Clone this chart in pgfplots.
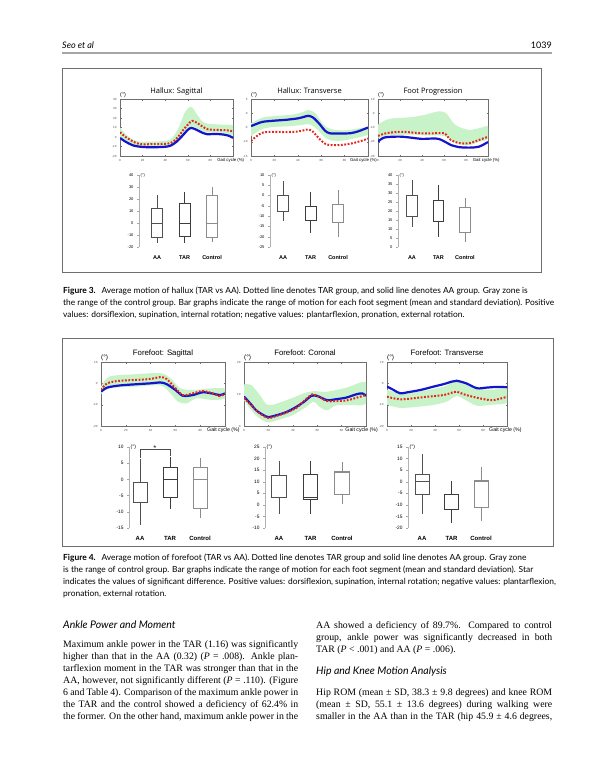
\documentclass[border=0pt]{standalone}
\usepackage{pgfplots}
\pgfplotsset{compat=1.18}
\usepgfplotslibrary{statistics}
\usepackage{fontspec}
\setmainfont{Liberation Serif}
\setsansfont{Liberation Sans}
\newfontfamily\gill{Lato}
\newfontfamily\osans{Open Sans}
\newfontfamily\dejavu{DejaVu Sans}
\definecolor{band}{HTML}{C8F2C8}
\definecolor{aablue}{HTML}{1414CC}
\definecolor{tarred}{HTML}{E3261E}
\definecolor{frame}{HTML}{6E6E6E}
\definecolor{boxA}{HTML}{505050}
\definecolor{boxT}{HTML}{3C3C3C}
\definecolor{boxC}{HTML}{8C8C8C}
\newcommand\fsz[1]{\fontsize{#1}{#1}\selectfont}

\pgfplotsset{
  gait/.style={
    scale only axis, anchor=north west, clip mode=individual,
    xmin=0, xmax=100, xtick={0,20,40,60,80},
    axis line style={frame, line width=0.6pt},
    tick style={frame, line width=0.3pt},
    major tick length=1.5pt, tick align=inside,
    ticklabel style={font=\sffamily\fsz{3}, text=black!70},
    /pgf/number format/assume math mode=true,
  },
  aa/.style={aablue, line width=2.2pt, smooth, tension=0.5, no markers},
  tar/.style={tarred, line width=2pt, dash pattern=on 1.8pt off 1.6pt, smooth, tension=0.5, no markers},
  env/.style={fill=band, draw=none, smooth, tension=0.5, no markers},
  rom/.style={
    scale only axis, anchor=south west, clip=false,
    axis x line*=bottom, axis y line*=left,
    x axis line style={draw=none},
    y axis line style={black!30, line width=0.6pt},
    xtick={1,2,3}, xticklabels={AA,TAR,Control},
    xtick style={draw=none},
    xticklabel style={font=\sffamily\bfseries\fsz{5.5}, yshift=-3pt},
    ytick style={black!35, line width=0.4pt},
    major tick length=2pt, tick align=outside,
    yticklabel style={font=\sffamily\fsz{4}},
    /pgf/number format/assume math mode=true,
    xmax=3.5,
    boxplot/draw direction=y,
    boxplot/box extend=0.4, boxplot/whisker extend=0,
  },
}

\begin{document}
\begin{tikzpicture}
\path[use as bounding box] (0,0) rectangle (600pt,-779pt);

% running head
\node[anchor=base west, inner sep=0, font=\gill\itshape\fsz{9}] at (62pt,-48pt) {Seo et al};
\node[anchor=base east, inner sep=0, font=\gill\fsz{9}] at (552pt,-48pt) {1039};
\draw[black!35, line width=1.1pt] (62pt,-53pt) -- (552pt,-53pt);

% frames
\draw[frame, line width=0.8pt] (62pt,-68pt) rectangle (541pt,-272pt);
\draw[frame, line width=0.8pt] (62pt,-338pt) rectangle (553pt,-546pt);

% ---------------- Figure 3, curves ----------------
\begin{axis}[gait, at={(120pt,-99pt)}, width=113pt, height=57pt,
  ymin=-20, ymax=40, ytick={-20,-10,...,40}]
\addplot[env] coordinates {(0,10)(5,3)(12,-3)(20,-5)(40,-4)(46,-1)(52,10)(57,25)(61,31)(64,31)(68,24)(73,16)(78,14)(90,13)(100,12)(100,2)(90,4.5)(78,5)(73,6)(68,9)(64,11)(61,9)(57,4)(52,-3)(46,-9)(40,-11)(20,-11)(12,-10)(5,-6)(0,-2)} -- cycle;
\addplot[aa] coordinates {(0,-1)(5,-5)(12,-9)(20,-10.5)(30,-10.8)(40,-10.3)(45,-9)(50,-5)(55,1)(60,7.5)(63,9.5)(67,8)(72,5)(77,3)(85,3.2)(92,2.5)(97,1)(100,-1)};
\addplot[tar] coordinates {(0,5)(5,0)(12,-5)(18,-7.5)(30,-7.5)(42,-7)(47,-5)(52,1)(57,9)(62,15.5)(64,17)(68,15)(73,11)(78,8)(85,7.5)(95,7)(100,6)};
\node[anchor=base, font=\osans\fsz{7.5}, yshift=6pt] at (rel axis cs:0.5,1) {Hallux: Sagittal};
\node[anchor=base west, inner sep=0, font=\sffamily\fsz{5.5}, yshift=3pt] at (rel axis cs:0,1) {(°)};
\node[anchor=north west, inner sep=0, font=\sffamily\fsz{4.3}, yshift=-2.5pt] at (rel axis cs:0.86,0) {Gait cycle (\%)};
\end{axis}

\begin{axis}[gait, at={(251pt,-99pt)}, width=117pt, height=57pt,
  ymin=-15, ymax=5, ytick={-15,-10,...,5}]
\addplot[env] coordinates {(0,-3.5)(10,-1.5)(20,-1)(35,-0.5)(45,0.5)(49,1.2)(55,0)(62,-4)(68,-5.5)(80,-6)(100,-5)(100,-7.5)(80,-9.5)(68,-9.5)(62,-8)(55,-5)(49,-3.8)(45,-4)(35,-4.5)(20,-4.8)(10,-5.5)(0,-8)} -- cycle;
\addplot[aa] coordinates {(0,-4.5)(5,-3.7)(10,-3)(20,-2.6)(30,-2.3)(40,-1.8)(45,-1.3)(49,-0.9)(53,-1.5)(58,-3.5)(63,-6)(67,-7)(75,-7.1)(85,-7)(92,-6.3)(100,-5)};
\addplot[tar] coordinates {(0,-9.7)(5,-8)(10,-6.8)(20,-6.5)(30,-6.6)(40,-6.4)(45,-6)(49,-5.7)(53,-6.5)(58,-8.8)(63,-10.6)(68,-11.2)(78,-11.1)(87,-10.5)(95,-9.6)(100,-8.9)};
\node[anchor=base, font=\osans\fsz{7.5}, yshift=6pt] at (rel axis cs:0.5,1) {Hallux: Transverse};
\node[anchor=base west, inner sep=0, font=\sffamily\fsz{5.5}, yshift=3pt] at (rel axis cs:0,1) {(°)};
\node[anchor=north west, inner sep=0, font=\sffamily\fsz{4.3}, yshift=-2.5pt] at (rel axis cs:0.845,0) {Gait cycle (\%)};
\end{axis}

\begin{axis}[gait, at={(378pt,-99pt)}, width=110pt, height=57pt,
  ymin=-30, ymax=10, ytick={-30,-20,...,10}]
\addplot[env] coordinates {(0,-8)(10,-4)(31,-2.7)(43,-1)(55,1.3)(62,0)(70,-8)(82,-11.6)(92,-10.5)(100,-9.3)(100,-18)(92,-20)(82,-22.5)(70,-20.5)(62,-16.5)(55,-15.5)(43,-15.5)(31,-15)(10,-15.5)(0,-17.5)} -- cycle;
\addplot[aa] coordinates {(0,-19.9)(6,-17)(20,-16.4)(32,-17.3)(40,-18)(52,-17.7)(57,-18.5)(62,-20.5)(66,-22.2)(74,-23.8)(84,-24.1)(92,-23.4)(100,-20.2)};
\addplot[tar] coordinates {(0,-15.9)(7.5,-14)(20,-13)(31,-13.5)(42,-14.2)(52,-14)(60,-14)(63,-16)(66,-18.7)(74,-21)(83,-21)(92,-18.7)(100,-16.5)};
\node[anchor=base, font=\osans\fsz{7.5}, yshift=6pt] at (rel axis cs:0.5,1) {Foot Progression};
\node[anchor=base west, inner sep=0, font=\sffamily\fsz{5.5}, yshift=3pt] at (rel axis cs:0,1) {(°)};
\node[anchor=north west, inner sep=0, font=\sffamily\fsz{4.3}, yshift=-2.5pt] at (rel axis cs:0.86,0) {Gait cycle (\%)};
\end{axis}

% ---------------- Figure 3, ROM boxes ----------------
\begin{axis}[rom, at={(139pt,-247pt)}, width=86.8pt, height=72pt, xmin=0.345,
  ymin=-20, ymax=40, ytick={-20,-10,...,40}]
\addplot[boxA, line width=0.8pt, boxplot prepared={lower whisker=-17, lower quartile=-12, median=0, upper quartile=12, upper whisker=23, draw position=1}] coordinates {};
\addplot[boxT, line width=0.8pt, boxplot prepared={lower whisker=-17, lower quartile=-11, median=0, upper quartile=16, upper whisker=26, draw position=2}] coordinates {};
\addplot[boxC, line width=0.8pt, boxplot prepared={lower whisker=-16, lower quartile=-12, median=0, upper quartile=23, upper whisker=30, draw position=3}] coordinates {};
\node[anchor=west, inner sep=0, font=\sffamily\fsz{4}, xshift=1.5pt] at (rel axis cs:0,1) {(°)};
\end{axis}

\begin{axis}[rom, at={(270pt,-247pt)}, width=81.8pt, height=72pt, xmin=0.527,
  ymin=-25, ymax=10, ytick={-25,-20,...,10}]
\addplot[boxA, line width=0.8pt, boxplot prepared={lower whisker=-12.5, lower quartile=-7.5, median=0, upper quartile=0, upper whisker=7, draw position=1}] coordinates {};
\addplot[boxT, line width=0.8pt, boxplot prepared={lower whisker=-18, lower quartile=-12, median=-5.5, upper quartile=-5.5, upper whisker=1.5, draw position=2}] coordinates {};
\addplot[boxC, line width=0.8pt, boxplot prepared={lower whisker=-20, lower quartile=-13, median=-4.5, upper quartile=-4.5, upper whisker=2.5, draw position=3}] coordinates {};
\node[anchor=west, inner sep=0, font=\sffamily\fsz{4}, xshift=1.5pt] at (rel axis cs:0,1) {(°)};
\end{axis}

\begin{axis}[rom, at={(398pt,-247pt)}, width=80.2pt, height=72pt, xmin=0.472,
  ymin=0, ymax=40, ytick={0,5,...,40}]
\addplot[boxA, line width=0.8pt, boxplot prepared={lower whisker=11, lower quartile=17, median=17, upper quartile=28.5, upper whisker=37, draw position=1}] coordinates {};
\addplot[boxT, line width=0.8pt, boxplot prepared={lower whisker=5.5, lower quartile=14, median=14, upper quartile=26, upper whisker=34.5, draw position=2}] coordinates {};
\addplot[boxC, line width=0.8pt, boxplot prepared={lower whisker=3, lower quartile=8, median=8, upper quartile=22, upper whisker=27.5, draw position=3}] coordinates {};
\node[anchor=west, inner sep=0, font=\sffamily\fsz{4}, xshift=1.5pt] at (rel axis cs:0,1) {(°)};
\end{axis}

% ---------------- Figure 4, curves ----------------
\begin{axis}[gait, at={(101pt,-362pt)}, width=124pt, height=64pt,
  ymin=-20, ymax=10, ytick={-20,-10,...,10}]
\addplot[env] coordinates {(0,-1.5)(7,3.2)(29,4.3)(48,4.8)(56,2.4)(64,-2.3)(74,-3.1)(90,-2.3)(100,-2.6)(100,-7)(90,-7.8)(77,-7)(69,-9.4)(62,-8.6)(56,-4.7)(48,-1)(29,-1.5)(7,-2.3)(0,-5.2)} -- cycle;
\addplot[aa] coordinates {(0,-3.9)(5,-2)(15,-1)(29,-0.4)(40,0)(48,0.4)(53,-0.4)(60,-3.1)(66,-5.8)(74,-5.5)(82,-4.2)(90,-4.8)(96,-5.5)(100,-4.7)};
\addplot[tar] coordinates {(0,-3.1)(5,0)(15,1.2)(29,1.6)(40,2.1)(48,2.9)(53,2)(60,-2.3)(66,-5.5)(74,-4.7)(82,-3.6)(90,-4.7)(96,-6)(100,-4.8)};
\node[anchor=base, font=\sffamily\fsz{7.8}, yshift=6.5pt] at (rel axis cs:0.5,1) {Forefoot: Sagittal};
\node[anchor=base west, inner sep=0, font=\sffamily\fsz{6.5}, yshift=3pt] at (rel axis cs:0,1) {(°)};
\node[anchor=north west, inner sep=0, font=\sffamily\fsz{5.2}, yshift=-2pt] at (rel axis cs:0.855,0) {Gait cycle (\%)};
\end{axis}

\begin{axis}[gait, at={(244pt,-362pt)}, width=122pt, height=64pt,
  ymin=0, ymax=20, ytick={0,10,20}]
\addplot[env] coordinates {(0,13)(6,12.8)(13,9.7)(20,6.5)(35,8.1)(49,10.2)(57,10.9)(68,10.7)(84,12)(100,13.7)(100,7.1)(90,6.5)(76,6.5)(68,4.9)(62,6)(57,7.6)(51,6)(40,3.4)(27,1.8)(20,1.1)(13,2.3)(6,4.9)(0,8.1)} -- cycle;
\addplot[aa] coordinates {(0,9.2)(5,7.1)(10,4.9)(16,3.4)(20,2.8)(27,3.4)(35,4.4)(43,6)(50,7.8)(55,9.4)(60,9.4)(68,8.1)(76,8.4)(84,8.9)(92,9.9)(97,10.2)(100,9.4)};
\addplot[tar] coordinates {(0,8.8)(6,6.5)(13,3.9)(20,2.5)(27,3.2)(35,4.2)(43,5.7)(50,8.1)(56,9.9)(61,9.2)(68,7.8)(76,7.8)(84,8)(92,8.8)(100,9.7)};
\node[anchor=base, font=\sffamily\fsz{7.8}, yshift=6.5pt] at (rel axis cs:0.5,1) {Forefoot: Coronal};
\node[anchor=base west, inner sep=0, font=\sffamily\fsz{6.5}, yshift=3pt] at (rel axis cs:0,1) {(°)};
\node[anchor=north west, inner sep=0, font=\sffamily\fsz{5.2}, yshift=-2pt] at (rel axis cs:0.83,0) {Gait cycle (\%)};
\end{axis}

\begin{axis}[gait, at={(387pt,-362pt)}, width=120pt, height=64pt,
  ymin=-20, ymax=10, ytick={-20,-10,...,10}]
\addplot[env] coordinates {(0,-3)(11,-4.5)(25,-4)(40,-2.5)(50,-1)(58,1.8)(66,-0.5)(75,-2.5)(88,-3)(100,-2.5)(100,-9)(88,-10)(75,-10.5)(66,-8)(58,-6)(50,-8.5)(40,-10)(25,-11)(11,-11.5)(0,-10)} -- cycle;
\addplot[aa] coordinates {(0,-1.5)(5.5,-3.1)(11,-4.7)(17,-4.2)(28,-3.1)(39,-1.5)(47,-0.4)(54,0.8)(58,1.2)(66,0)(75,-2.3)(83,-2)(91,-1.7)(100,-1.8)};
\addplot[tar] coordinates {(0,-6.3)(11,-7.5)(22,-7)(33,-6.3)(47,-5.5)(55,-4.2)(58,-3.9)(66,-5.5)(77,-7)(88,-7.9)(100,-6.3)};
\node[anchor=base, font=\sffamily\fsz{7.8}, yshift=6.5pt] at (rel axis cs:0.5,1) {Forefoot: Transverse};
\node[anchor=base west, inner sep=0, font=\sffamily\fsz{6.5}, yshift=3pt] at (rel axis cs:0,1) {(°)};
\node[anchor=north west, inner sep=0, font=\sffamily\fsz{5.2}, yshift=-2pt] at (rel axis cs:0.85,0) {Gait cycle (\%)};
\end{axis}

% ---------------- Figure 4, ROM boxes ----------------
\begin{axis}[rom, at={(129pt,-528pt)}, width=86pt, height=81pt, xmin=0.633,
  ymin=-15, ymax=10, ytick={-15,-10,...,10}, boxplot/box extend=0.47,
  xticklabel style={font=\sffamily\bfseries\fsz{6}}, yticklabel style={font=\sffamily\fsz{4.8}}]
\addplot[boxA, line width=0.9pt, boxplot prepared={lower whisker=-14, lower quartile=-7, median=-1, upper quartile=-1, upper whisker=6.3, draw position=1}] coordinates {};
\addplot[boxT, line width=0.9pt, boxplot prepared={lower whisker=-9, lower quartile=-5.5, median=0, upper quartile=3.8, upper whisker=7, draw position=2}] coordinates {};
\addplot[boxC, line width=0.9pt, boxplot prepared={lower whisker=-12, lower quartile=-9, median=0, upper quartile=3.8, upper whisker=6.5, draw position=3}] coordinates {};
\draw[black!70, line width=0.6pt] (axis cs:1,6.6) -- (axis cs:1,9.4) -- (axis cs:2,9.4) -- (axis cs:2,7.3);
\node[anchor=south, inner sep=0.4pt, font=\dejavu\fsz{4.5}, text=black!70] at (axis cs:1.5,9.4) {★};
\node[anchor=west, inner sep=0, font=\sffamily\fsz{5}, xshift=1.5pt] at (rel axis cs:0,1) {(°)};
\end{axis}

\begin{axis}[rom, at={(265pt,-528pt)}, width=92.7pt, height=81pt, xmin=0.556,
  ymin=-10, ymax=25, ytick={-10,-5,...,25}, boxplot/box extend=0.47,
  xticklabel style={font=\sffamily\bfseries\fsz{6}}, yticklabel style={font=\sffamily\fsz{4.8}}]
\addplot[boxA, line width=0.9pt, boxplot prepared={lower whisker=-4, lower quartile=3, median=3, upper quartile=12.5, upper whisker=19, draw position=1}] coordinates {};
\addplot[boxT, line width=0.9pt, boxplot prepared={lower whisker=-4, lower quartile=2.5, median=3, upper quartile=13, upper whisker=19, draw position=2}] coordinates {};
\addplot[boxC, line width=0.9pt, boxplot prepared={lower whisker=0.5, lower quartile=4.5, median=14, upper quartile=14.5, upper whisker=18.5, draw position=3}] coordinates {};
\node[anchor=west, inner sep=0, font=\sffamily\fsz{5}, xshift=1.5pt] at (rel axis cs:0,1) {(°)};
\end{axis}

\begin{axis}[rom, at={(408pt,-528pt)}, width=87.8pt, height=81pt, xmin=0.525,
  ymin=-20, ymax=15, ytick={-20,-15,...,15}, boxplot/box extend=0.47,
  xticklabel style={font=\sffamily\bfseries\fsz{6}}, yticklabel style={font=\sffamily\fsz{4.8}}]
\addplot[boxA, line width=0.9pt, boxplot prepared={lower whisker=-14, lower quartile=-5.5, median=0, upper quartile=3, upper whisker=12, draw position=1}] coordinates {};
\addplot[boxT, line width=0.9pt, boxplot prepared={lower whisker=-18, lower quartile=-12, median=-12, upper quartile=-5.5, upper whisker=0.5, draw position=2}] coordinates {};
\addplot[boxC, line width=0.9pt, boxplot prepared={lower whisker=-17, lower quartile=-11, median=0.3, upper quartile=0.5, upper whisker=6.5, draw position=3}] coordinates {};
\node[anchor=west, inner sep=0, font=\sffamily\fsz{5}, xshift=1.5pt] at (rel axis cs:0,1) {(°)};
\end{axis}

% ---------------- captions ----------------
\node[anchor=base west, inner sep=0] at (63pt,-293pt) {\parbox[t]{500pt}{\gill\fontsize{8.4}{12}\selectfont\raggedright
  \textbf{Figure 3.}\hspace{0.7em}Average motion of hallux (TAR vs AA). Dotted line denotes TAR group, and solid line denotes AA group. Gray zone is\\
  the range of the control group. Bar graphs indicate the range of motion for each foot segment (mean and standard deviation). Positive\\
  values: dorsiflexion, supination, internal rotation; negative values: plantarflexion, pronation, external rotation.}};
\node[anchor=base west, inner sep=0] at (63pt,-560pt) {\parbox[t]{500pt}{\gill\fontsize{8.4}{12}\selectfont\raggedright
  \textbf{Figure 4.}\hspace{0.7em}Average motion of forefoot (TAR vs AA). Dotted line denotes TAR group and solid line denotes AA group. Gray zone\\
  is the range of control group. Bar graphs indicate the range of motion for each foot segment (mean and standard deviation). Star\\
  indicates the values of significant difference. Positive values: dorsiflexion, supination, internal rotation; negative values: plantarflexion,\\
  pronation, external rotation.}};

% ---------------- body text ----------------
\node[anchor=base west, inner sep=0, font=\gill\itshape\fsz{10.5}] at (63pt,-628pt) {Ankle Power and Moment};
\node[anchor=base west, inner sep=0] at (63pt,-647pt) {\parbox[t]{235pt}{\fontsize{9.8}{12}\selectfont
 Maximum ankle power in the TAR (1.16) was significantly\linebreak
 higher than that in the AA (0.32) (\textit{P} = .008). Ankle plan-\linebreak
 tarflexion moment in the TAR was stronger than that in the\linebreak
 AA, however, not significantly different (\textit{P} = .110). (Figure\linebreak
 6 and Table 4). Comparison of the maximum ankle power in\linebreak
 the TAR and the control showed a deficiency of 62.4\% in\linebreak
 the former. On the other hand, maximum ankle power in the\linebreak}};
\node[anchor=base west, inner sep=0] at (316pt,-628pt) {\parbox[t]{236pt}{\fontsize{9.8}{12}\selectfont
 AA showed a deficiency of 89.7\%. Compared to control\linebreak
 group, ankle power was significantly decreased in both\linebreak
 TAR (\textit{P} < .001) and AA (\textit{P} = .006).}};
\node[anchor=base west, inner sep=0, font=\gill\itshape\fsz{10.5}] at (316pt,-674pt) {Hip and Knee Motion Analysis};
\node[anchor=base west, inner sep=0] at (316pt,-695pt) {\parbox[t]{236pt}{\fontsize{9.8}{12}\selectfont
 Hip ROM (mean ± SD, 38.3 ± 9.8 degrees) and knee ROM\linebreak
 (mean ± SD, 55.1 ± 13.6 degrees) during walking were\linebreak
 smaller in the AA than in the TAR (hip 45.9 ± 4.6 degrees,\linebreak}};
\end{tikzpicture}
\end{document}
